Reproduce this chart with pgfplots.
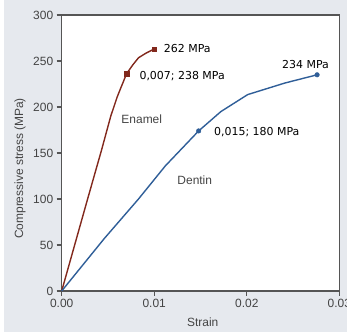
\documentclass[border=0pt]{standalone}
\usepackage{fontspec}
\setmainfont{Liberation Sans}
\newfontfamily\dv{DejaVu Sans}
\usepackage{pgfplots}
\pgfplotsset{compat=1.18}
\definecolor{bggray}{HTML}{E6E9EE}
\definecolor{enamel}{HTML}{82281C}
\definecolor{dentin}{HTML}{2F5E98}
\definecolor{axgray}{HTML}{555555}
\definecolor{txtgray}{HTML}{444444}
\begin{document}
\begin{tikzpicture}
\fill[white] (-61.7bp,-43bp) rectangle (285.3bp,291bp);
\fill[bggray] (-57.7bp,-41bp) rectangle (285.3bp,291bp);
\begin{axis}[
  at={(0,0)}, anchor=south west,
  scale only axis, width=277.6bp, height=276bp,
  xmin=0, xmax=0.03, ymin=0, ymax=300,
  xtick={0,0.01,0.02,0.03}, xticklabels={0.00,0.01,0.02,0.03},
  scaled x ticks=false,
  ytick={0,50,100,150,200,250,300},
  /pgf/number format/assume math mode=true,
  tick label style={font=\fontsize{12}{14}\selectfont, text=txtgray},
  label style={font=\fontsize{12}{14}\selectfont, text=txtgray},
  tick align=outside, major tick length=5bp,
  xtick pos=bottom, ytick pos=left,
  tick style={axgray, line width=1.1pt},
  axis line style={axgray, line width=1.1pt},
  axis background/.style={fill=white},
  xlabel={Strain},
  ylabel={Compressive stress (MPa)},
  xlabel style={at={(axis description cs:0.508,-0.114)}, anchor=center},
  ylabel style={at={(axis description cs:-0.150,0.444)}, anchor=center, rotate=0},
  clip=false,
]
\addplot[enamel, line width=1.4pt, mark=none] coordinates {
  (0,0) (0.0028,100) (0.0043,153) (0.0053,190) (0.0060,211) (0.0066,226) (0.0070,236)
};
\addplot[enamel, line width=1.4pt, mark=none] coordinates {
  (0.0070,236) (0.0077,246) (0.0083,253.5) (0.0091,258.5) (0.0100,263)
};
\addplot[enamel, only marks, mark=square*, mark size=2.3bp] coordinates {
  (0.0070,236) (0.0100,263)
};
\addplot[dentin, line width=1.4pt, mark=none] coordinates {
  (0,0) (0.0046,57) (0.0083,100) (0.0112,136) (0.0148,174) (0.0172,195) (0.0201,213.5) (0.0241,226) (0.0276,235)
};
\addplot[dentin, only marks, mark=*, mark size=2.3bp] coordinates {
  (0.0148,174) (0.0276,235)
};
\node[anchor=west, font=\dv\fontsize{11}{13}\selectfont, inner sep=0pt] at (axis cs:0.01103,263.3) {262 MPa};
\node[anchor=west, font=\dv\fontsize{11}{13}\selectfont, inner sep=0pt] at (axis cs:0.00839,233.9) {0,007; 238 MPa};
\node[anchor=west, font=\dv\fontsize{11}{13}\selectfont, inner sep=0pt] at (axis cs:0.02381,245.9) {234 MPa};
\node[anchor=west, font=\dv\fontsize{11}{13}\selectfont, inner sep=0pt] at (axis cs:0.01646,172.4) {0,015; 180 MPa};
\node[anchor=west, font=\fontsize{12}{14}\selectfont, text=txtgray, inner sep=0pt] at (axis cs:0.00644,186.3) {Enamel};
\node[anchor=west, font=\fontsize{12}{14}\selectfont, text=txtgray, inner sep=0pt] at (axis cs:0.01249,120.9) {Dentin};
\end{axis}
\pgfresetboundingbox
\path[use as bounding box] (-61.7bp,-43bp) rectangle (285.3bp,291bp);
\end{tikzpicture}
\end{document}
